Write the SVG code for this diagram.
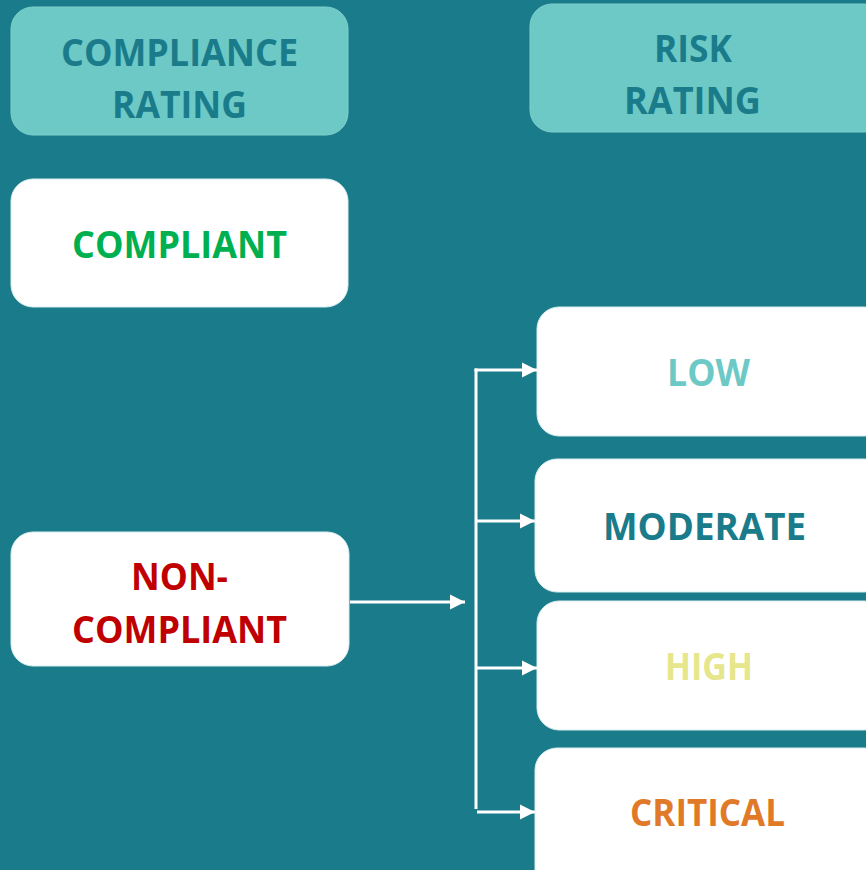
<svg xmlns="http://www.w3.org/2000/svg" width="866" height="870" viewBox="0 0 866 870">
<defs>
<style>
.hdr{fill:#6dc9c5;stroke:#7fd0cc;stroke-width:1}
.box{fill:#ffffff;stroke:#d8eef0;stroke-width:1}
text{font-family:"Open Sans","Liberation Sans",sans-serif;font-weight:bold;font-size:38px;text-anchor:start}
.conn{stroke:#ffffff;stroke-width:3;fill:none}
</style>
<marker id="ah" markerUnits="userSpaceOnUse" markerWidth="16" markerHeight="16" refX="15" refY="8" orient="auto">
<path d="M0,0.5 L15,8 L0,15.5 z" fill="#ffffff"/>
</marker>
</defs>
<rect x="0" y="0" width="866" height="870" fill="#1a7b8a"/>
<g id="compliance-rating">
<rect class="hdr" x="11" y="7" width="337" height="128" rx="22"/>
<text x="61" y="66" fill="#1a7b8a" textLength="237" lengthAdjust="spacingAndGlyphs">COMPLIANCE</text>
<text x="112" y="118" fill="#1a7b8a" textLength="135" lengthAdjust="spacingAndGlyphs">RATING</text>
</g>
<g id="risk-rating">
<rect class="hdr" x="530" y="4" width="356" height="128" rx="22"/>
<text x="654" y="62" fill="#1a7b8a" textLength="78" lengthAdjust="spacingAndGlyphs">RISK</text>
<text x="624" y="114" fill="#1a7b8a" textLength="137" lengthAdjust="spacingAndGlyphs">RATING</text>
</g>
<g id="compliant">
<rect class="box" x="11" y="179" width="337" height="128" rx="22"/>
<text x="72" y="258" fill="#00b050" textLength="215" lengthAdjust="spacingAndGlyphs">COMPLIANT</text>
</g>
<g id="non-compliant">
<rect class="box" x="11" y="532" width="338" height="134" rx="22"/>
<text x="131" y="590" fill="#c00000" textLength="97" lengthAdjust="spacingAndGlyphs">NON-</text>
<text x="72" y="643" fill="#c00000" textLength="215" lengthAdjust="spacingAndGlyphs">COMPLIANT</text>
</g>
<g id="low">
<rect class="box" x="537" y="307" width="349" height="129" rx="22"/>
<text x="667" y="386" fill="#6dc9c5" textLength="83" lengthAdjust="spacingAndGlyphs">LOW</text>
</g>
<g id="moderate">
<rect class="box" x="535" y="459" width="351" height="133" rx="22"/>
<text x="603" y="540" fill="#1a7b8a" textLength="203" lengthAdjust="spacingAndGlyphs">MODERATE</text>
</g>
<g id="high">
<rect class="box" x="537" y="601" width="349" height="129" rx="22"/>
<text x="665" y="680" fill="#e6e68c" textLength="88" lengthAdjust="spacingAndGlyphs">HIGH</text>
</g>
<g id="critical">
<rect class="box" x="535" y="748" width="351" height="150" rx="22"/>
<text x="630" y="826" fill="#e17a28" textLength="155" lengthAdjust="spacingAndGlyphs">CRITICAL</text>
</g>
<g id="connectors">
<line class="conn" x1="350" y1="602" x2="465" y2="602" marker-end="url(#ah)"/>
<line class="conn" x1="476" y1="368.5" x2="476" y2="809"/>
<line class="conn" x1="474.5" y1="370" x2="537" y2="370" marker-end="url(#ah)"/>
<line class="conn" x1="476" y1="521" x2="535" y2="521" marker-end="url(#ah)"/>
<line class="conn" x1="476" y1="668" x2="537" y2="668" marker-end="url(#ah)"/>
<line class="conn" x1="477" y1="812" x2="535" y2="812" marker-end="url(#ah)"/>
</g>
</svg>
